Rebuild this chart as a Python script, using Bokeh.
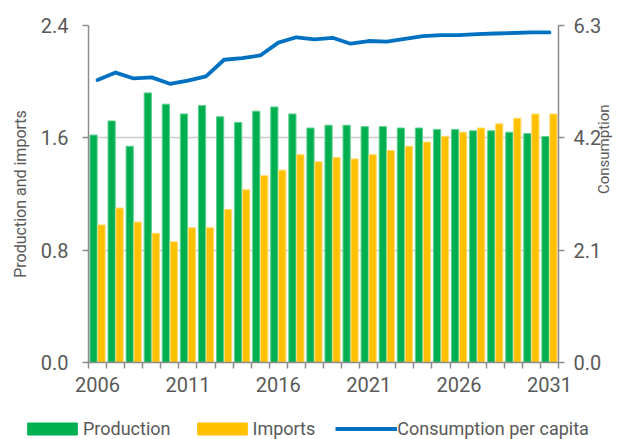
import math
from bokeh.plotting import figure
from bokeh.layouts import column
from bokeh.models import (Range1d, LinearAxis, FixedTicker, Legend, LegendItem,
                          ColumnDataSource, CustomJSTickFormatter)
from bokeh.transform import dodge
from bokeh.embed import file_html
from bokeh.resources import INLINE

years = list(range(2006, 2032))
production = [1.62, 1.72, 1.54, 1.92, 1.84, 1.77, 1.83, 1.75, 1.71, 1.79, 1.82, 1.77,
              1.67, 1.69, 1.69, 1.68, 1.68, 1.67, 1.67, 1.66, 1.66, 1.65, 1.65, 1.64,
              1.63, 1.61]
imports = [0.98, 1.10, 1.00, 0.92, 0.86, 0.96, 0.96, 1.09, 1.23, 1.33, 1.37, 1.48,
           1.43, 1.46, 1.45, 1.48, 1.51, 1.54, 1.57, 1.61, 1.64, 1.67, 1.70, 1.74,
           1.77, 1.77]
consumption = [5.28, 5.42, 5.31, 5.33, 5.21, 5.27, 5.35, 5.66, 5.69, 5.74, 5.98, 6.08,
               6.04, 6.07, 5.96, 6.01, 6.00, 6.05, 6.10, 6.12, 6.12, 6.14, 6.15, 6.16,
               6.17, 6.17]
year_labels = [2006, 2011, 2016, 2021, 2026, 2031]
left_ticks = [0.0, 0.8, 1.6, 2.4]
right_ticks = [0.0, 2.1, 4.2, 6.3]
series_names = ["Production", "Imports", "Consumption per capita"]

GREEN = "#00B050"
YELLOW = "#FFC000"
BLUE = "#0070C0"
TEXT = "#595959"
AXIS = "#8c8c8c"
FONT = "Roboto"

src = ColumnDataSource(dict(year=years, production=production, imports=imports,
                            consumption=consumption))

p = figure(width=625, height=409, output_backend="svg", toolbar_location=None,
           x_range=Range1d(years[0] - 0.5, years[-1] + 0.5),
           y_range=Range1d(0, left_ticks[-1]),
           min_border_left=88, min_border_right=66, min_border_top=25,
           min_border_bottom=47)
p.extra_y_ranges = {"cons": Range1d(0, right_ticks[-1])}
p.outline_line_color = None
p.background_fill_color = "white"

p.vbar(x=dodge("year", -0.22, range=p.x_range), top="production", width=0.40,
       source=src, fill_color=GREEN, line_color="#5fd08f", line_width=1)
p.vbar(x=dodge("year", 0.22, range=p.x_range), top="imports", width=0.40,
       source=src, fill_color=YELLOW, line_color="#ffdc70", line_width=1)
p.line(x="year", y="consumption", source=src, y_range_name="cons",
       line_color=BLUE, line_width=3.8, line_join="round", line_cap="round")

# grid
p.xgrid.visible = False
p.ygrid.ticker = FixedTicker(ticks=left_ticks)
p.ygrid.grid_line_color = "#cccccc"
p.ygrid.grid_line_width = 1.5

def style_axis(ax):
    ax.axis_line_color = AXIS
    ax.axis_line_width = 1.5
    ax.major_tick_line_color = AXIS
    ax.major_tick_line_width = 1.5
    ax.major_tick_in = 0
    ax.major_tick_out = 6
    ax.minor_tick_line_color = None
    ax.major_label_text_font = FONT
    ax.major_label_text_font_size = "20px"
    ax.major_label_text_color = TEXT
    ax.axis_label_text_font = FONT
    ax.axis_label_text_font_size = "16px"
    ax.axis_label_text_color = TEXT
    ax.axis_label_text_font_style = "normal"

# left axis
ly = p.yaxis[0]
ly.ticker = FixedTicker(ticks=left_ticks)
ly.formatter = CustomJSTickFormatter(code="return tick.toFixed(1);")
ly.axis_label = "Production and imports"
style_axis(ly)
ly.major_label_standoff = 14
ly.axis_label_standoff = 8

# right axis
ry = LinearAxis(y_range_name="cons", axis_label="Consumption")
ry.ticker = FixedTicker(ticks=right_ticks)
ry.formatter = CustomJSTickFormatter(code="return tick.toFixed(1);")
style_axis(ry)
ry.axis_label_text_font_size = "15px"
ry.major_label_standoff = 9
ry.axis_label_standoff = 0
if hasattr(ry, "axis_label_orientation"):
    ry.axis_label_orientation = math.pi / 2
p.add_layout(ry, "right")

# bottom axis
bx = p.xaxis[0]
bx.ticker = FixedTicker(ticks=year_labels,
                        minor_ticks=[yr - 0.5 for yr in years] + [years[-1] + 0.5])
style_axis(bx)
bx.major_tick_line_color = None
bx.minor_tick_line_color = AXIS
bx.minor_tick_line_width = 1.5
bx.minor_tick_in = 0
bx.minor_tick_out = 6
bx.major_label_standoff = 8

# legend strip (separate small figure whose frame spans the full width)
lf = figure(width=625, height=30, output_backend="svg", toolbar_location=None,
            x_range=Range1d(0, 1), y_range=Range1d(0, 1),
            min_border_left=0, min_border_right=0, min_border_top=0,
            min_border_bottom=0)
if hasattr(lf, "frame_align"):
    lf.frame_align = False
    p.frame_align = False
lf.axis.visible = False
lf.grid.visible = False
lf.outline_line_color = None
rg = lf.vbar(x="year", top="production", width=0.4, source=src,
             fill_color=GREEN, line_color=GREEN)
rim = lf.vbar(x="year", top="imports", width=0.4, source=src,
              fill_color=YELLOW, line_color=YELLOW)
rl = lf.line(x="year", y="consumption", source=src, line_color=BLUE,
             line_width=3.8, line_cap="butt")

legend = Legend(items=[LegendItem(label=series_names[0], renderers=[rg]),
                       LegendItem(label=series_names[1], renderers=[rim]),
                       LegendItem(label=series_names[2], renderers=[rl])],
                orientation="horizontal", location=(21, 0),
                glyph_width=62, glyph_height=15, label_standoff=0, spacing=20,
                label_text_font=FONT, label_text_font_size="18px",
                label_text_color=TEXT, border_line_color=None,
                background_fill_alpha=0, padding=0, margin=0)
lf.add_layout(legend, "center")

layout = column(p, lf, spacing=0)
open("out.html", "w").write(file_html(layout, INLINE))
